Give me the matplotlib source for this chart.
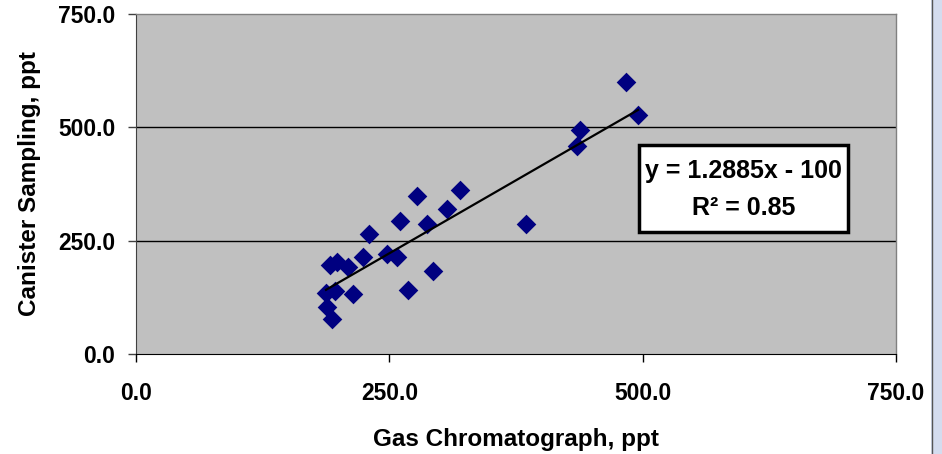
import matplotlib.pyplot as plt
import matplotlib.patches as mpatches
import numpy as np

# gas chromatograph vs canister sampling (ppt)
gc_ppt = [483.6, 495.4, 438.2, 435.3, 384.9, 319.7, 277.3, 306.9, 260.5, 287.2,
          229.9, 224.0, 247.7, 257.6, 191.4, 198.4, 209.2, 293.1, 268.4, 214.1,
          187.5, 196.4, 188.5, 193.4]
canister_ppt = [600.0, 527.2, 494.1, 458.8, 286.8, 362.5, 348.5, 319.9, 293.4, 286.8,
                264.7, 213.2, 219.9, 213.2, 196.3, 202.9, 191.9, 183.1, 141.2, 132.4,
                134.6, 138.9, 103.6, 77.2]
slope = 1.2885
intercept = -100.0
r2_text = "0.85"
ticks = [0, 250, 500, 750]

plt.rcParams['font.family'] = ['Liberation Sans', 'DejaVu Sans']
plt.rcParams['font.weight'] = 'bold'

fig = plt.figure(figsize=(9.42, 4.54), dpi=100)
ax = fig.add_axes([136/942, 100/454, 760/942, 340/454])
ax.set_facecolor('#c0c0c0')

# screenshot edge on the right
fig.patches.append(mpatches.Rectangle((931/942, 0), 11/942, 1, transform=fig.transFigure,
                                      facecolor='#d4dcef', edgecolor='none'))
fig.add_artist(plt.Line2D([931.5/942, 931.5/942], [0, 1], transform=fig.transFigure,
                          color='#555555', lw=1))

for v in ticks[1:3]:
    ax.axhline(v, color='black', lw=1, zorder=1)

ax.scatter(gc_ppt, canister_ppt, marker='D', s=100, color='#000080', zorder=3, linewidths=0)

xs = np.array([min(gc_ppt), max(gc_ppt)])
ax.plot(xs, slope * xs + intercept, color='black', lw=1.6, zorder=4)

ax.set_xlim(0, 750)
ax.set_ylim(0, 750)
ax.set_xticks(ticks)
ax.set_yticks(ticks)
ax.set_xticklabels([f"{t:.1f}" for t in ticks])
ax.set_yticklabels([f"{t:.1f}" for t in ticks])
ax.tick_params(axis='x', direction='out', length=6, width=1, pad=14, labelsize=16.5, colors='black')
ax.tick_params(axis='y', direction='out', length=6, width=1, pad=9, labelsize=16.5, colors='black')
ax.tick_params(axis='y', color='#404040')

for s in ['top', 'right']:
    ax.spines[s].set_color('#808080')
    ax.spines[s].set_linewidth(1)
ax.spines['left'].set_color('#404040')
ax.spines['bottom'].set_color('black')

ax.set_xlabel('Gas Chromatograph, ppt', fontsize=17.5, fontweight='bold', labelpad=17)
ax.set_ylabel('Canister Sampling, ppt', fontsize=17.5, fontweight='bold', labelpad=12)

# trendline label box
ax.add_patch(mpatches.Rectangle((0.662, 0.359), 0.275, 0.256, transform=ax.transAxes,
                                facecolor='white', edgecolor='black', linewidth=2.5, zorder=5))
ax.text(0.799, 0.537, f"y = {slope}x - {abs(intercept):.0f}", transform=ax.transAxes,
        ha='center', va='center', fontsize=18, fontweight='bold', zorder=6)
ax.text(0.799, 0.430, f"R² = {r2_text}", transform=ax.transAxes,
        ha='center', va='center', fontsize=18, fontweight='bold', zorder=6)

fig.savefig('out.png', dpi=100)
